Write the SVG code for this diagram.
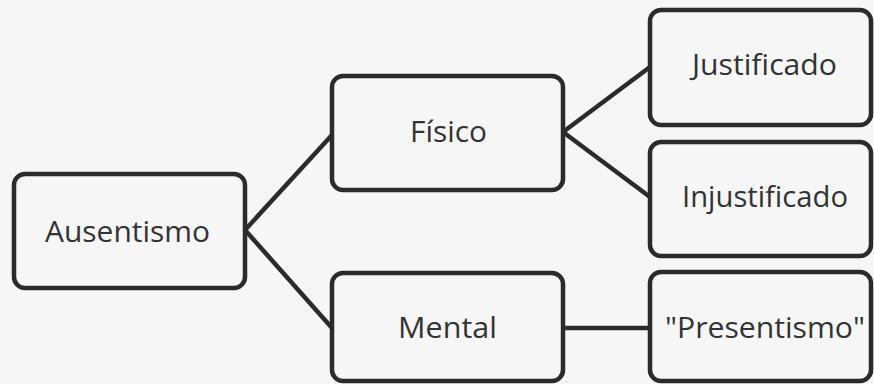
<svg xmlns="http://www.w3.org/2000/svg" width="874" height="384" viewBox="0 0 874 384">
<style>
.box{fill:#f6f6f6;stroke:#2b2b2b;stroke-width:4.5}
.lbl{font-family:"Open Sans","Liberation Sans",sans-serif;font-size:30px;fill:#333333}
.conn{stroke:#2b2b2b;stroke-width:4.5;fill:none;stroke-linecap:round}
</style>
<rect width="874" height="384" fill="#f6f6f6"/>
<g id="connectors">
<line class="conn" x1="245" y1="230" x2="332" y2="135"/>
<line class="conn" x1="245" y1="230" x2="332" y2="328"/>
<line class="conn" x1="563" y1="132" x2="650" y2="67"/>
<line class="conn" x1="563" y1="132" x2="650" y2="197"/>
<line class="conn" x1="563" y1="328" x2="650" y2="328"/>
</g>
<g id="ausentismo">
<rect class="box" x="14" y="174" width="231" height="114" rx="11"/>
<text class="lbl" x="45" y="242" textLength="165" lengthAdjust="spacingAndGlyphs">Ausentismo</text>
</g>
<g id="fisico">
<rect class="box" x="332" y="76" width="231" height="114" rx="11"/>
<text class="lbl" x="410" y="142" textLength="77" lengthAdjust="spacingAndGlyphs">Físico</text>
</g>
<g id="mental">
<rect class="box" x="332" y="273" width="231" height="108" rx="11"/>
<text class="lbl" x="398" y="338" textLength="99" lengthAdjust="spacingAndGlyphs">Mental</text>
</g>
<g id="justificado">
<rect class="box" x="650" y="10" width="221" height="115" rx="11"/>
<text class="lbl" x="692" y="75" textLength="145" lengthAdjust="spacingAndGlyphs">Justificado</text>
</g>
<g id="injustificado">
<rect class="box" x="650" y="142" width="221" height="114" rx="11"/>
<text class="lbl" x="682" y="207" textLength="166" lengthAdjust="spacingAndGlyphs">Injustificado</text>
</g>
<g id="presentismo">
<rect class="box" x="650" y="272" width="221" height="109" rx="11"/>
<text class="lbl" x="665" y="338" textLength="200" lengthAdjust="spacingAndGlyphs">"Presentismo"</text>
</g>
</svg>
